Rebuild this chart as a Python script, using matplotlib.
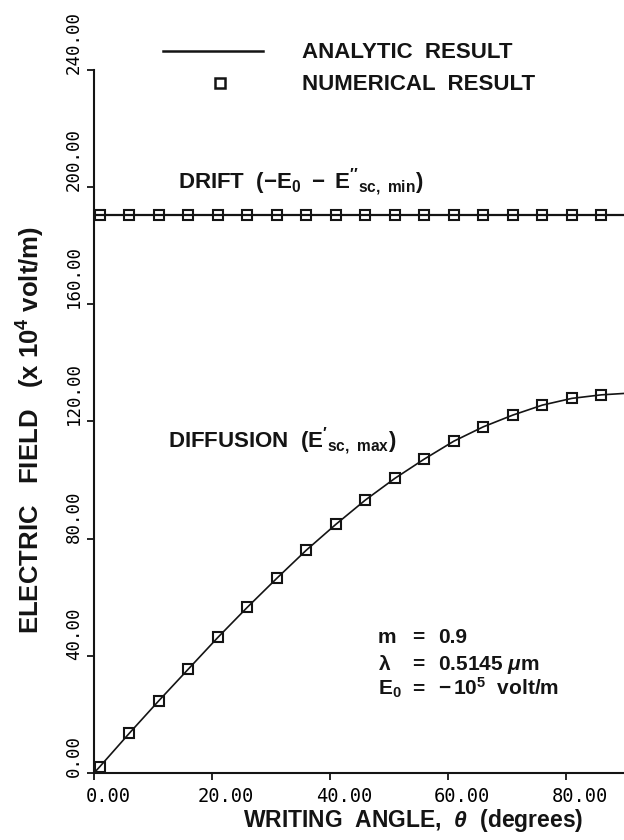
import matplotlib
matplotlib.use('Agg')
import matplotlib.pyplot as plt
from matplotlib.transforms import ScaledTranslation

# writing angle (degrees) where the numerical solution was sampled
angles = [1, 6, 11, 16, 21, 26, 31, 36, 41, 46, 51, 56, 61, 66, 71, 76, 81, 86]
diffusion_numerical = [2.2, 13.6, 24.7, 35.5, 46.3, 56.6, 66.5, 76.1, 84.9,
                       93.2, 100.6, 107.2, 113.3, 118.2, 122.2, 125.6, 127.9, 129.1]
drift_numerical = [190.5, 190.5, 190.5, 190.5, 190.5, 190.5, 190.5, 190.5, 190.5,
                   190.5, 190.5, 190.5, 190.5, 190.5, 190.5, 190.5, 190.5, 190.5]

# analytic curves
curve_angles = [0, 1, 6, 11, 16, 21, 26, 31, 36, 41, 46, 51, 56, 61, 66, 71, 76, 81, 86, 90]
diffusion_analytic = [0.0, 2.2, 13.6, 24.7, 35.5, 46.3, 56.6, 66.5, 76.1, 84.9,
                      93.2, 100.6, 107.2, 113.3, 118.2, 122.2, 125.6, 127.9, 129.1, 129.6]
drift_angles = [0, 90]
drift_analytic = [190.5, 190.5]

x_ticks = [0, 20, 40, 60, 80]
y_ticks = [0, 40, 80, 120, 160, 200, 240]

# parameter block: symbol, value
param_symbols = [r"m", r"$\lambda$", r"$E_0$"]
param_values = [r"0.9", r"0.5145 $\mathit{\mu}$m", r"$-\,$10$^5$  volt/m"]

plt.rcParams['font.family'] = ['Liberation Sans', 'DejaVu Sans']
plt.rcParams['font.weight'] = 'bold'
plt.rcParams['mathtext.fontset'] = 'custom'
plt.rcParams['mathtext.rm'] = 'Liberation Sans:bold'
plt.rcParams['mathtext.bf'] = 'Liberation Sans:bold'
plt.rcParams['mathtext.it'] = 'Liberation Sans:italic:bold'
plt.rcParams['mathtext.default'] = 'rm'

INK = '#141414'

fig = plt.figure(figsize=(6.24, 8.4), dpi=100)
fig.patch.set_facecolor('white')
ax = fig.add_axes([94 / 624, 67 / 840, 531 / 624, 703 / 840])

ax.plot(curve_angles, diffusion_analytic, color=INK, lw=1.2)
ax.plot(drift_angles, drift_analytic, color=INK, lw=1.6)
for vals in (diffusion_numerical, drift_numerical):
    ax.plot(angles, vals, ls='none', marker='s', ms=7.5, mfc='none',
            mec=INK, mew=1.5)

ax.set_xlim(0, 90)
ax.set_ylim(0, 240)
ax.set_xticks(x_ticks)
ax.set_yticks(y_ticks)
ax.set_xticklabels([f'{v:.2f}' for v in x_ticks])
ax.set_yticklabels([f'{v:.2f}' for v in y_ticks])
for side in ('top', 'right'):
    ax.spines[side].set_visible(False)
for side in ('left', 'bottom'):
    ax.spines[side].set_linewidth(1.5)
    ax.spines[side].set_color(INK)
ax.tick_params(direction='out', length=5, width=1.3, color=INK)
ax.tick_params(axis='x', pad=5)
ax.tick_params(axis='y', pad=3)

for lab in ax.get_xticklabels():
    lab.set_fontfamily('DejaVu Sans Mono')
    lab.set_fontweight('normal')
    lab.set_fontsize(13.5)
    lab.set_transform(lab.get_transform() + ScaledTranslation(14 / 100, 0, fig.dpi_scale_trans))
for lab in ax.get_yticklabels():
    lab.set_fontfamily('DejaVu Sans Mono')
    lab.set_fontweight('normal')
    lab.set_fontsize(12.5)
    lab.set_rotation(90)
    lab.set_va('bottom')
    lab.set_transform(lab.get_transform() + ScaledTranslation(0, -4 / 100, fig.dpi_scale_trans))

# legend drawn by hand above the plot
ax.plot([0.13, 0.318], [1.027, 1.027], transform=ax.transAxes, color=INK,
        lw=1.8, clip_on=False)
ax.plot([0.238], [0.9815], transform=ax.transAxes, ls='none', marker='s', ms=7,
        mfc='none', mec=INK, mew=1.8, clip_on=False)
ax.text(0.392, 1.025, 'ANALYTIC  RESULT', transform=ax.transAxes, fontsize=16,
        va='center', ha='left', color=INK)
ax.text(0.392, 0.979, 'NUMERICAL  RESULT', transform=ax.transAxes, fontsize=16,
        va='center', ha='left', color=INK)

ax.text(14.2, 199.5, r"DRIFT  $(-E_0\ -\ E''_{sc,\ min})$", fontsize=16,
        va='baseline', ha='left', color=INK)
ax.text(12.6, 111.3, r"DIFFUSION  $(E'_{sc,\ max})$", fontsize=16,
        va='baseline', ha='left', color=INK)

param_y = [44.4, 35.2, 26.6]
for sym, val, y in zip(param_symbols, param_values, param_y):
    ax.text(48.1, y, sym, fontsize=15, va='baseline', ha='left', color=INK)
    ax.text(54.0, y, '=', fontsize=15, va='baseline', ha='left', color=INK)
    ax.text(58.3, y, val, fontsize=15, va='baseline', ha='left', color=INK)

fig.text(413 / 624, 1 - 827 / 840, r"WRITING  ANGLE,  $\mathit{\theta}$  (degrees)",
         fontsize=16.5, ha='center', va='baseline', color=INK)
fig.text(31 / 624, 1 - 430 / 840, r"ELECTRIC   FIELD   (x 10$^4$ volt/m)",
         fontsize=18.5, rotation=90, ha='center', va='center', color=INK)

fig.savefig('out.png', dpi=100)
